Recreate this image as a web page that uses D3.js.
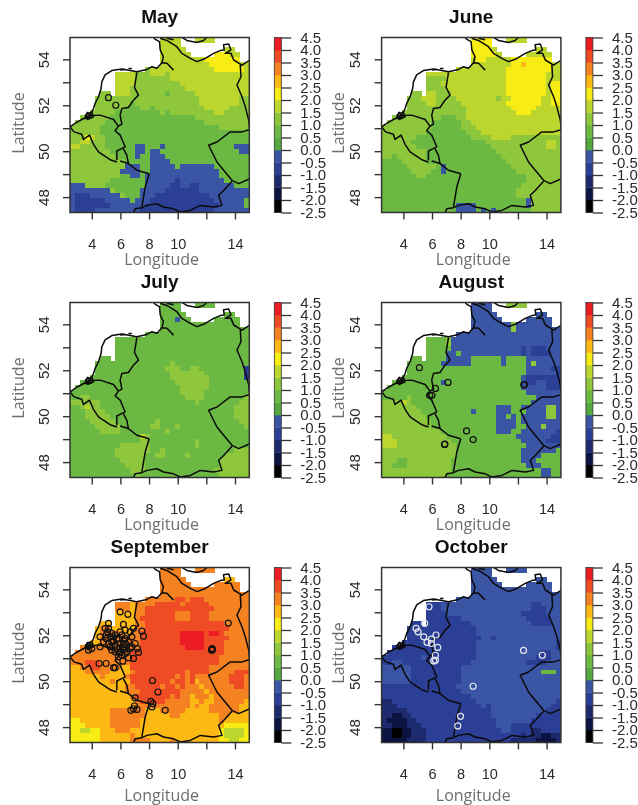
<!DOCTYPE html>
<html><head><meta charset="utf-8">
<style>html,body{margin:0;padding:0;background:#fff}svg{display:block;filter:blur(0.45px)}</style>
<script src="https://cdn.jsdelivr.net/npm/d3@7"></script></head>
<body><div id="chart"></div>
<script>
const bandEdges=[-2.5,-2,-1.5,-1,-0.5,0,0.5,1,1.5,2,2.5,3,3.5,4,4.5];
const bandColors=["#000000","#0b1340","#1d2a6e","#2c3f96","#3b55a5","#55a73f","#6bb843","#8ec63c","#bdd62e","#f7ec13","#fdb913","#f58220","#ef4b24","#ed1c24"];
const lonTicks=[4,6,8,10,12,14];
const lonLabels=[4,6,8,10,14];
const latTicks=[48,49,50,51,52,53,54];
const latLabels=[48,50,52,54];
const months=["May","June","July","August","September","October"];

const landMask=[
"...... ...... ...... 1111.. .1111. ......",
"...... ...... ...... 1111.. ...... ......",
"...... ...... ...... 11111. ...... .11...",
"...... ...... ...... 111111 .....1 1111..",
"...... ...... ...... 111111 111111 1111..",
"...... ...... ...... 111111 111111 111111",
"...... ...... ...111 111111 111111 111111",
"...... ...111 111111 111111 111111 111111",
"...... ...111 111111 111111 111111 111111",
"...... ...111 111111 111111 111111 111111",
"...... ...111 111111 111111 111111 111111",
"...... 11.111 111111 111111 111111 111111",
".....1 111111 111111 111111 111111 111111",
".....1 111111 111111 111111 111111 111111",
".....1 111111 111111 111111 111111 111111",
"....11 111111 111111 111111 111111 111111",
"..1111 111111 111111 111111 111111 111111",
".11111 111111 111111 111111 111111 111111",
"111111 111111 111111 111111 111111 111111",
"111111 111111 111111 111111 111111 111111",
"111111 111111 111111 111111 111111 111111",
"111111 111111 111111 111111 111111 111111",
"111111 111111 111111 111111 111111 111111",
"111111 111111 111111 111111 111111 111111",
"111111 111111 111111 111111 111111 111111",
"111111 111111 111111 111111 111111 111111",
"111111 111111 111111 111111 111111 111111",
"111111 111111 111111 111111 111111 111111",
"111111 111111 111111 111111 111111 111111",
"111111 111111 111111 111111 111111 111111",
"111111 111111 111111 111111 111111 111111",
"111111 111111 111111 111111 111111 111111",
"111111 111111 111111 111111 111111 111111",
"111111 111111 111111 111111 111111 111111",
"111111 111111 111111 111111 111111 111111",
"111111 111111 111111 111111 111111 111111"];

const mayRows=[
"888888 888888 888888 888888 888888 888888",
"888888 888888 888888 888888 888888 888888",
"888888 888888 888888 888888 888888 888888",
"888888 888888 888888 888888 888889 998888",
"888888 888888 888888 888888 888999 999988",
"888888 888888 888888 888888 888899 999988",
"888888 888888 887788 888888 888889 999998",
"888888 888888 877788 878888 888888 888888",
"888888 888888 877777 778888 888888 888888",
"888888 888888 877777 777788 888888 888888",
"888888 888888 777777 777778 888888 888888",
"777777 778888 777777 767777 788888 888888",
"777777 777777 777777 777777 778888 888877",
"777777 777777 677777 777777 778888 888877",
"777777 777776 667767 777777 777888 887777",
"777777 777666 666666 767777 777778 877777",
"777777 776666 666666 666666 677777 777777",
"777777 766666 666666 666666 666777 777777",
"777777 666666 666666 666666 666666 777777",
"777777 666666 666666 666666 666666 666666",
"777987 766666 666666 666666 666666 666666",
"778877 766666 666666 666666 666666 666666",
"887777 766666 644666 466666 666666 666444",
"777777 776666 644644 666666 666666 666644",
"777777 777666 646644 466666 666666 666666",
"777777 777776 666644 446666 666666 666666",
"777777 777774 446644 444644 444446 666666",
"777777 777744 446644 444444 444444 666666",
"777777 777766 446444 444444 444444 666666",
"777777 776666 666444 444344 444444 466666",
"444777 766666 666444 443344 334444 444666",
"444444 447666 664444 433333 334444 444444",
"433344 444476 664443 333333 333344 444444",
"433333 344444 644433 333333 333334 444446",
"433333 334444 444333 333333 333333 444446",
"433334 444444 443333 333333 333334 444444"];

const juneRows=[
"888888 888888 888888 999988 888888 888888",
"888888 888888 888888 999988 888888 888888",
"888888 888888 888888 999988 888888 888888",
"888888 888888 888888 999998 888888 888888",
"888888 888888 888888 899888 889999 999988",
"888888 888888 888888 888888 8899a9 999988",
"888888 888888 888888 888888 899999 999988",
"788888 888888 888888 888888 899999 999888",
"888888 888777 788888 888888 899999 999888",
"777777 887777 888888 888888 899999 999899",
"777777 887777 788888 888888 899999 999899",
"777777 778887 778888 888888 899999 999899",
"777777 778887 777888 888887 889999 998899",
"777777 777887 777788 888888 899999 998899",
"777777 777777 777778 888888 889999 988888",
"777777 777777 777778 888888 888999 888888",
"777777 777777 666778 888888 888888 888888",
"777777 777766 666677 888888 888888 888888",
"777777 777766 666677 788888 888888 888888",
"777777 777666 666667 778888 888888 888888",
"777777 766666 666666 777788 887777 777777",
"777777 666666 666666 666777 777777 777887",
"777777 766666 666666 666677 777777 777887",
"777777 777666 666666 666667 777777 777777",
"776777 777666 666666 666666 777777 777777",
"666677 777666 666666 666666 677777 777777",
"666667 777776 466666 666666 667777 777777",
"666666 777766 466666 666666 666777 777777",
"666666 677666 666666 666666 666667 777777",
"666666 666666 666666 666666 666667 777777",
"666666 666666 666666 666666 666677 777777",
"666666 666666 666666 666666 666777 777777",
"666666 666666 666666 666666 666777 777777",
"666666 666666 666666 666666 666664 777777",
"666666 666666 666444 466666 666664 777777",
"666666 666666 666444 464646 666666 777777"];

const julyRows=[
"666666 666666 666666 666666 666666 666666",
"666666 666666 666666 666666 666666 666666",
"666666 666666 666666 666666 666666 666666",
"666666 666666 666666 666466 666666 666666",
"666666 666666 666666 666666 666666 666666",
"666666 666666 666666 666666 666666 666666",
"666666 666666 666666 666666 666666 666666",
"666666 666666 666666 666666 666666 666666",
"666666 666666 666666 666666 666666 666666",
"666666 666666 666666 666666 666666 666666",
"666666 666666 666666 666666 666666 666666",
"666666 666666 666666 666666 666666 666666",
"666666 666666 666666 667666 666666 666666",
"666666 666666 666666 677766 776666 666663",
"666666 666666 666666 667777 777666 666663",
"666666 666666 666666 667777 777766 666663",
"666666 666666 666666 666777 777766 666666",
"666666 666666 666666 666677 777766 666666",
"666666 666666 666666 666677 777666 666666",
"667766 666666 666666 666667 777666 666667",
"777777 666666 666666 666666 676666 666677",
"667877 666666 666666 666666 666666 666777",
"666777 766666 666666 666666 666666 666777",
"666777 776666 666666 666666 666666 666777",
"666677 777666 666667 666666 666666 666677",
"666667 777766 666677 666766 666666 666667",
"666666 777766 666666 676666 666666 666666",
"666666 666666 668766 666666 666666 666666",
"666666 666666 667766 666666 676666 666666",
"666666 666677 777766 666666 676666 666666",
"666666 666777 777766 766666 666666 666777",
"666666 666777 777667 766667 666666 677777",
"666666 666677 777666 666666 666666 777777",
"666666 666667 777666 666666 666666 777777",
"666666 666666 777666 666666 666667 777777",
"666666 666666 676666 666666 666666 777777"];

const augustRows=[
"444444 444444 444444 444444 477774 444444",
"444444 444444 444444 444444 444444 444444",
"444444 444444 444444 444444 444444 444444",
"444444 444444 444444 444444 444444 444444",
"444444 444444 444444 444444 447444 444444",
"444444 444444 444444 444444 447444 444444",
"444444 444444 444444 444444 444444 444444",
"666666 666666 674444 444444 444444 444444",
"666666 666666 674444 444444 444444 444444",
"666666 666666 664444 444444 444434 333444",
"666666 666666 644644 444444 444434 333344",
"666666 666666 644444 666666 466664 444444",
"666666 666666 444444 666666 466664 744444",
"666666 666666 666666 666666 666664 444433",
"666666 666666 666666 666666 666664 444443",
"666666 666666 666666 666666 666643 333333",
"666666 666666 466666 666666 666643 344333",
"666666 666666 666666 666666 666644 444333",
"666666 666666 666666 666666 666664 444444",
"666667 666666 666666 666666 666666 644444",
"777787 666666 666666 666666 666666 444444",
"777777 766666 666666 666664 446644 444774",
"777777 776666 666666 466664 446664 444774",
"777777 777666 666666 666664 464644 444774",
"777777 777766 666666 666664 444644 444444",
"777777 777766 666666 666664 444664 447444",
"777777 777777 666666 666664 446644 444443",
"887777 777777 766666 666666 666444 444433",
"888777 777777 776666 666666 666644 444333",
"888777 777777 777666 666666 666664 444444",
"777777 777777 777666 666666 666644 444446",
"777777 777777 777666 666666 666644 446666",
"777667 777777 776666 666666 666644 466666",
"776667 777777 776666 666666 666664 446666",
"777777 777777 776666 666666 666666 664466",
"777777 777777 766666 666666 666666 664466"];

const septemberRows=[
"bbbbbb bbbbbb bbbbbb bbbbbb bbbbbb bbbbbb",
"bbbbbb bbbbbb bbbbbb bbbbbb bbbbbb bbbbbb",
"bbbbbb bbbbbb bbbbbb bbbbbb bbbbbb baabbb",
"bbbbbb bbbbbb bbbbbb bbbbbb bbbbbb bbbbbb",
"bbbbbb bbbbbb bbbbbb bbbbbb bbbbbb bbbbbb",
"bbbbbb bbbbbb bbbbbb bbbbbb bbbbbb bbbbbb",
"bbbbbb bbbbbb bbbbbb bbbccb cccbbb bbbbbb",
"bbbbbb bbbbbb abbbbc ccccbc ccccbb bbbbbb",
"bbbbbb bbbbbb abbccc cccccc cccccb bbbbbb",
"aaaaaa aaaaaa abbccc cccbbb ccccbb bbbbbb",
"aaaaaa aaaaaa abcccc cccbbb ccccbb bbbbbb",
"aaaaaa aaaaaa abbccc cccccc cccccc cbbbbb",
"aaaaaa bbaaaa abbccc cccccc cccccc ccbbbb",
"aaaaaa bbbbba bbcccc ccccdd dddcdd cbbbbb",
"aaaaaa bbbbbb bbcccc ccccdd dddccc ccbbbb",
"bbbaaa bbbbbb bbcccc ccccdd dddccc cbbbbb",
"bbbbbb bbbbbb bbcccc cccccd dddccc cbbbbb",
"bbbbbb bbbbbb cccccc cccccc cccccc cbbbbb",
"bbbbbb bbbbbb cccccc cccccc cccccc bbbbbb",
"bbbccc bbbbbb cccccc cccccc cccccc bbbbbb",
"aabbcc bbbbaa cccccc cccccc ccccbb bbbbbb",
"aaabbb bbaaaa bccccc cccccb ccccbb bbbccc",
"aaaaaa baaaab cccccc cccbcb cbbbbb bbcccb",
"aaaaaa aabaaa cccccc ccbccb cabbbb bbcccb",
"aaaaaa aaaaab bccccc bccbcb bbabbb bbbccb",
"aaaaaa aaaaab bbcccc ccccbb bbbabb bbbbbb",
"aaaaaa aaaaaa bccccc ccbcbb abbbab bbbbbb",
"aaaaaa aaaaaa abcccc cbbbbb aabaab bbbbba",
"aaaaaa aaaaaa abbbbb bbbbbb abaabb bbbbaa",
"aaaaaa aabbbb bbbaaa bbbbba aaaabb bbbbaa",
"aaaaaa aabbbb bbbaaa aabbaa aaaaaa bbaaaa",
"99aaaa aabbbb bbaaaa aaaaaa aaaaaa baaaaa",
"999aaa aabbbb bbaaaa aaaaaa aaaaaa a99999",
"998899 aaabbb aaaaaa aaaaaa aaaaaa 988889",
"999999 aaaaaa baaaaa aaaaaa aaaaaa 988889",
"999999 aaaaaa bbbbaa aabaaa aaaaaa 998899"];

const octoberRows=[
"444444 444444 444444 444444 444444 444444",
"444444 444444 444444 444444 444444 444444",
"444444 444444 444444 444444 444444 444444",
"444444 444444 444444 444444 444444 444444",
"444444 444444 444444 444444 444444 444444",
"444444 444444 444444 444444 444444 444444",
"444444 444444 444444 444444 444444 444444",
"333333 333333 444444 444444 444444 334444",
"333333 333333 444444 444444 444444 333444",
"333333 333333 344444 444444 444433 333444",
"333333 333333 333344 444444 444443 333344",
"333333 333333 333333 444444 444444 333344",
"333333 333333 333333 344444 444444 444444",
"333333 333333 333333 344444 444444 444444",
"333333 333333 333333 334434 444444 444444",
"333333 333333 333333 344444 444444 444443",
"333333 333333 333333 344444 444444 444443",
"333333 333333 333333 344444 444444 443344",
"333333 334333 333333 344444 444444 433344",
"334433 333333 333333 444444 444443 333444",
"444444 333333 333344 444444 444444 444444",
"444444 333333 333344 444444 444444 446664",
"444444 333333 333344 444444 444444 444444",
"444444 333333 333344 444444 444444 444444",
"333333 333333 333444 444444 444444 444444",
"333333 333333 333344 444444 444444 444444",
"333333 333333 333333 444444 444444 444444",
"223333 333333 333333 344444 444444 444443",
"222333 333333 333333 334344 444444 444433",
"222223 333333 333333 333344 444444 444333",
"221122 333333 333333 333344 444444 433333",
"211112 233333 333333 333334 444444 333333",
"221112 223333 333333 333334 443333 333333",
"110011 222333 333333 333333 443333 223333",
"110011 222333 333333 333333 333323 221122",
"111112 222333 333333 333333 332222 211112"];

const boundaryLines=[
[[2.48,51.06],[2.83,51.21],[3.30,51.38],[3.70,51.50],[3.93,51.61],[4.12,51.86],[4.23,52.08],[4.47,52.37],[4.65,52.73],[4.70,53.02],[4.93,53.32],[5.40,53.51],[6.10,53.58],[7.15,53.46],[7.85,53.56],[8.20,53.68],[8.55,53.61],[8.90,53.85],[9.25,53.83],[9.71,53.53]],
[[8.90,53.85],[9.00,54.12],[8.78,54.41],[8.73,54.77],[8.43,54.87],[8.31,54.96]],
[[8.78,54.92],[9.24,54.82],[9.94,54.55],[10.29,54.26],[10.88,54.04],[11.34,53.90],[11.81,54.00],[12.51,54.26],[12.97,54.38],[13.25,54.41],[13.20,54.63],[13.56,54.67],[13.72,54.41],[13.32,54.26],[13.72,54.26],[13.91,53.97],[14.49,53.75],[15.03,53.97]],
[[14.37,53.75],[14.42,53.24],[14.14,52.88],[14.49,52.37],[14.72,51.93],[14.96,51.35],[15.03,50.91]],
[[15.03,50.94],[14.49,50.84],[13.67,50.84],[12.74,50.40],[12.16,50.26],[12.74,49.53],[13.21,49.17],[13.79,48.73],[14.26,48.59],[15.03,48.80]],
[[13.79,48.69],[13.21,48.29],[12.86,48.08],[13.09,47.64],[12.51,47.57],[11.58,47.64],[10.88,47.42],[10.18,47.35],[9.71,47.49],[9.01,47.57],[8.55,47.71],[7.85,47.64],[7.50,47.54],[7.03,47.49],[6.91,47.32]],
[[8.01,49.02],[7.73,48.44],[7.50,47.57]],
[[5.98,49.57],[6.56,49.46],[7.15,49.17],[8.01,49.02]],
[[5.86,51.09],[5.63,50.89],[5.98,50.70],[6.33,50.19],[5.98,50.08],[5.75,50.01],[5.75,49.60]],
[[6.21,50.11],[6.45,49.82],[6.56,49.46]],
[[2.48,51.06],[2.76,50.84],[3.30,50.74],[3.42,50.51],[3.84,50.70],[4.12,50.30],[4.47,49.97],[4.70,49.87],[5.28,49.63],[5.75,49.53]],
[[3.70,51.54],[4.58,51.57],[5.52,51.38],[5.86,51.09]],
[[7.15,53.42],[6.98,52.78],[7.26,52.44],[6.91,52.22],[6.56,51.90],[6.10,51.86],[5.98,51.57],[6.10,51.18],[5.86,51.09]],
[[3.53,51.57],[3.99,51.71],[4.12,51.50],[3.70,51.38],[3.53,51.57]],
[[3.70,51.71],[3.93,51.50],[3.53,51.42],[3.70,51.71]],
[[9.25,54.92],[9.71,54.85]],
[[10.29,54.96],[10.64,54.82],[11.34,54.73],[11.81,54.82],[12.04,54.96]],
[[5.98,53.53],[6.33,53.56]],
[[6.56,53.60],[6.80,53.60]]];

const maySites=[[5.17,52.33],[5.68,52.00]];
const juneSites=[];
const julySites=[];
const augustSites=[[5.12,52.11],[7.12,51.47],[6.24,51.21],[6.00,50.91],[5.84,50.91],[12.41,51.37],[12.45,51.37],[8.41,49.36],[8.87,48.98],[6.87,48.77],[6.90,48.78]];
const septemberSites=[[5.98,53.02],[6.52,52.91],[5.17,52.52],[6.21,52.47],[6.91,52.30],[7.50,52.18],[7.61,51.96],[4.93,52.30],[5.10,52.15],[4.58,51.93],[5.00,52.01],[5.28,51.93],[5.63,52.01],[5.98,52.15],[6.33,52.22],[6.68,52.15],[5.86,51.86],[5.52,51.74],[5.17,51.64],[4.82,51.71],[4.58,51.50],[5.63,51.57],[5.98,51.64],[6.33,51.86],[6.56,51.71],[6.80,51.93],[7.03,51.64],[7.19,51.42],[7.26,51.25],[6.91,50.99],[6.21,51.35],[6.45,51.28],[5.98,51.28],[5.75,51.42],[5.40,51.35],[6.45,51.57],[6.21,51.50],[5.86,51.06],[6.17,50.87],[6.56,51.02],[3.88,51.57],[3.77,51.35],[4.00,51.42],[4.51,50.77],[5.00,50.77],[5.52,50.59],[5.63,50.58],[8.24,50.03],[8.62,49.53],[7.03,49.27],[8.13,49.12],[8.27,49.02],[8.20,48.88],[9.13,48.73],[6.73,48.73],[6.98,48.92],[7.15,48.77],[6.91,48.80],[13.53,52.53],[12.39,51.39],[12.42,51.36],[12.37,51.35],[12.41,51.42],[5.40,52.08],[5.75,51.83],[6.10,52.01],[5.28,51.50],[5.63,51.28],[6.10,51.13],[6.33,51.20],[6.68,51.42],[6.80,51.50],[5.98,51.42],[5.52,51.93],[6.33,51.64],[5.00,51.86],[5.17,52.30],[5.40,51.71]];
const octoberSites=[[5.79,53.24],[5.49,52.52],[4.89,52.30],[5.03,52.15],[5.42,51.93],[5.96,51.83],[6.28,52.01],[5.65,51.69],[5.96,51.64],[6.40,51.47],[6.24,51.13],[6.12,50.88],[6.24,50.91],[12.39,51.34],[13.70,51.13],[8.87,49.78],[7.99,48.47],[7.80,48.05]];

const monthRows=[mayRows,juneRows,julyRows,augustRows,septemberRows,octoberRows];
const monthSites=[maySites,juneSites,julySites,augustSites,septemberSites,octoberSites];

const W=638,H=805;
const colX=[70,381.6],rowY=[37.5,302.5,567.5],pw=179.3,ph=175;
const svg=d3.select("#chart").append("svg").attr("width",W).attr("height",H);
const x=d3.scaleLinear().domain([2.48,15.0]).range([0,pw]);
const y=d3.scaleLinear().domain([47.33,54.95]).range([ph,0]);
const cols=d3.range(36);
const bx=d3.scaleBand().domain(cols).range([0,pw]);
const by=d3.scaleBand().domain(cols).range([0,ph]);
const colorOf=d3.scaleThreshold().domain(bandEdges.slice(1,-1)).range(bandColors);
const barY=d3.scaleLinear().domain([-2.5,4.5]).range([ph,0]);
const line=d3.line().x(d=>x(d[0])).y(d=>y(d[1]));
const mask=landMask.map(s=>s.replace(/ /g,""));
const ink="#333";

months.forEach((name,i)=>{
  const cx=i%2,ry=Math.floor(i/2);
  const g=svg.append("g").attr("transform",`translate(${colX[cx]},${rowY[ry]})`);
  const clipId="clip"+i;
  g.append("clipPath").attr("id",clipId).append("rect").attr("width",pw).attr("height",ph);
  const cells=[];
  monthRows[i].forEach((row,r)=>{
    const s=row.replace(/ /g,"");
    for(let c=0;c<36;c++){
      if(mask[r][c]==="."||s[c]===undefined)continue;
      cells.push({r,c,v:-2.25+0.5*parseInt(s[c],16)});
    }
  });
  const body=g.append("g").attr("clip-path",`url(#${clipId})`);
  body.selectAll("rect.cell").data(cells).join("rect").attr("class","cell")
    .attr("x",d=>bx(d.c)).attr("y",d=>by(d.r))
    .attr("width",bx.bandwidth()+1).attr("height",by.bandwidth()+1)
    .attr("shape-rendering","crispEdges")
    .attr("fill",d=>colorOf(d.v));
  body.selectAll("path.bd").data(boundaryLines).join("path").attr("class","bd")
    .attr("d",line).attr("fill","none").attr("stroke","#0a0a0a").attr("stroke-width",1.5).attr("stroke-linejoin","round");
  const white=name==="October";
  body.selectAll("circle").data(monthSites[i]).join("circle")
    .attr("cx",d=>x(d[0])).attr("cy",d=>y(d[1])).attr("r",3)
    .attr("fill","none").attr("stroke",white?"#e4e6ee":"#111").attr("stroke-width",1.2);
  g.append("rect").attr("width",pw).attr("height",ph).attr("fill","none").attr("stroke",ink).attr("stroke-width",1.5);

  const xa=g.append("g").attr("transform",`translate(0,${ph})`)
    .call(d3.axisBottom(x).tickValues(lonTicks).tickSize(7).tickPadding(19)
      .tickFormat(d=>lonLabels.includes(d)?d:""));
  xa.select(".domain").remove();
  xa.selectAll("line").attr("stroke",ink).attr("stroke-width",1.4);
  xa.selectAll("text").attr("font-family","Liberation Sans").attr("font-size",14.5).attr("fill","#2a2a2a");
  const ya=g.append("g").call(d3.axisLeft(y).tickValues(latTicks).tickSize(7).tickFormat(d=>latLabels.includes(d)?d:""));
  ya.select(".domain").remove();
  ya.selectAll("line").attr("stroke",ink).attr("stroke-width",1.4);
  ya.selectAll("text").attr("x",0).attr("dy",0).attr("text-anchor","middle")
    .attr("transform","translate(-21.5,0) rotate(-90)")
    .attr("font-family","Liberation Sans").attr("font-size",15).attr("fill","#2a2a2a");

  g.append("text").attr("x",pw/2).attr("y",-15).attr("text-anchor","middle")
    .attr("font-family","Liberation Sans").attr("font-weight","bold").attr("font-size",19).attr("fill","#111").text(name);
  g.append("text").attr("x",pw/2+2).attr("y",ph+(ry===2?58:52)).attr("text-anchor","middle")
    .attr("font-family","Open Sans").attr("font-size",16).attr("fill","#6e6e6e").text("Longitude");
  g.append("text").attr("transform",`translate(${cx===0?-46:-37.6},${ph/2-2}) rotate(-90)`).attr("text-anchor","middle")
    .attr("font-family","Open Sans").attr("font-size",16).attr("fill","#6e6e6e").text("Latitude");

  const bar=g.append("g").attr("transform",`translate(${pw+25},0)`);
  const bw=7;
  bar.selectAll("rect.band").data(bandColors).join("rect").attr("class","band")
    .attr("x",0).attr("width",bw)
    .attr("y",(d,k)=>barY(bandEdges[k+1])).attr("height",(d,k)=>barY(bandEdges[k])-barY(bandEdges[k+1])+0.3)
    .attr("fill",d=>d);
  bar.append("rect").attr("width",bw).attr("height",ph).attr("fill","none").attr("stroke",ink).attr("stroke-width",0.8);
  const ba=bar.append("g").attr("transform",`translate(${bw},0)`)
    .call(d3.axisRight(barY).tickValues(bandEdges).tickSize(10).tickPadding(9).tickFormat(d=>d.toFixed(1)));
  ba.select(".domain").remove();
  ba.selectAll("line").attr("stroke",ink).attr("stroke-width",1.3);
  ba.selectAll("text").attr("font-family","Liberation Sans").attr("font-size",15).attr("fill","#2a2a2a");
});
</script></body></html>
